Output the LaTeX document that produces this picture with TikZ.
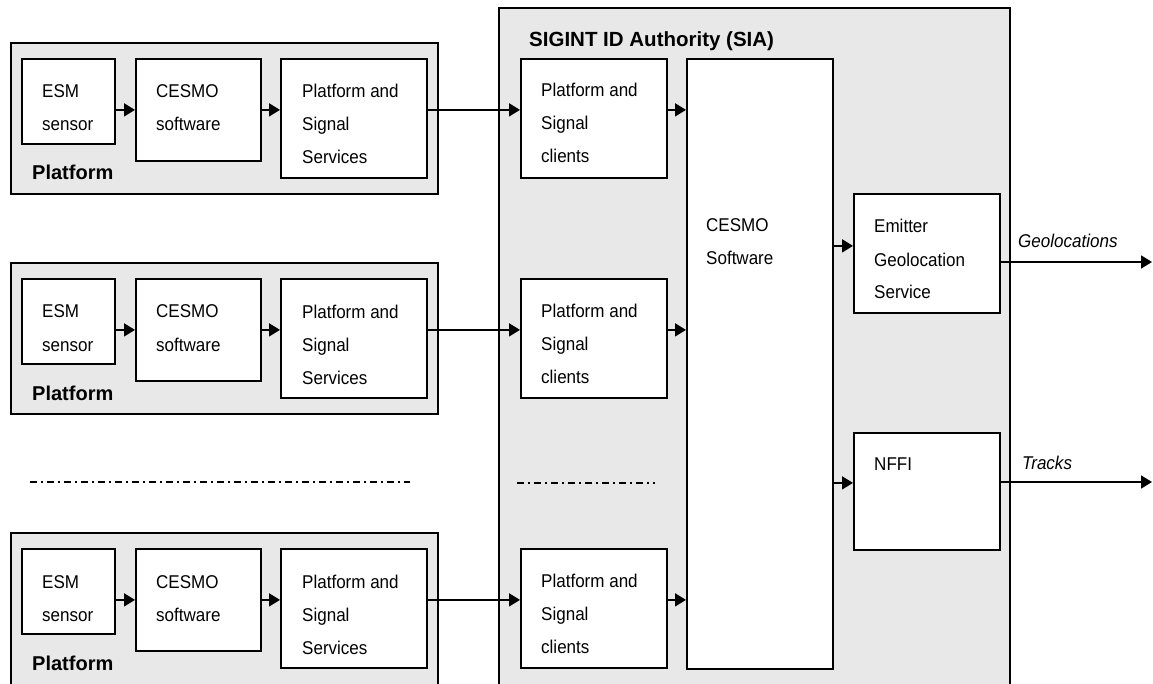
\documentclass[tikz,border=0pt]{standalone}
\usepackage{fontspec}
\setmainfont{Liberation Sans}
\newfontfamily\nrw[FakeStretch=0.92]{Liberation Sans}
\usetikzlibrary{arrows.meta}
\definecolor{sgray}{HTML}{E8E8E8}
\newcommand\bx[6][]{\node[#1, minimum width={(#5)-(#3)}, minimum height={(#6)-(#4)}, anchor=north west] (#2) at (#3,#4) {};}
\begin{document}
\begin{tikzpicture}[x=1pt,y=-1pt,
  wbox/.style={draw, line width=1.8pt, fill=white, inner sep=0pt},
  gbox/.style={draw, line width=1.8pt, fill=sgray, inner sep=0pt},
  txt/.style={anchor=base west, align=left, inner sep=0pt, font=\nrw\fontsize{18.5}{33}\selectfont},
  itx/.style={anchor=base west, inner sep=0pt, font=\nrw\itshape\fontsize{18.5}{22}\selectfont},
  ttl/.style={anchor=base west, inner sep=0pt, font=\bfseries\fontsize{20.5}{24}\selectfont},
  arr/.style={line width=1.8pt, -{Triangle[length=11pt,width=13pt]}},
  dd/.style={line width=2pt, dash pattern=on 7pt off 4pt on 2pt off 4pt}]
\useasboundingbox (0,0) rectangle (1153,684);
\clip (0,0) rectangle (1153,684);
% SIA
\bx[gbox]{sia}{498}{7}{1009}{720}
\node[ttl] (siat) at (529,46.5) {SIGINT ID Authority (SIA)};
\bx[wbox]{big}{686}{58}{832}{668}
\node[txt] (bigt) at (706,265) {CESMO\\Software};
\bx[wbox]{emit}{853}{193}{999}{312}
\node[txt] (emitt) at (874,299) {Emitter\\Geolocation\\Service};
\bx[wbox]{nffi}{853}{432}{999}{549}
\node[txt] (nffit) at (874,470) {NFFI};
% rows
\foreach \r/\o/\b in {1/0/193,2/220/413,3/490/720}{
  \bx[gbox]{plat\r}{10}{42+\o}{437}{\b}
  \node[ttl, font=\bfseries\fontsize{20}{24}\selectfont] (platt\r) at (32,180+\o) {Platform};
  \bx[wbox]{esm\r}{21}{58+\o}{114}{143+\o}
  \bx[wbox]{ces\r}{135}{58+\o}{260}{160+\o}
  \bx[wbox]{svc\r}{280}{58+\o}{426}{177+\o}
  \bx[wbox]{cl\r}{520}{58+\o}{666}{177+\o}
  \node[txt] (esmt\r) at (42,131+\o) {ESM\\sensor};
  \node[txt] (cest\r) at (156,131+\o) {CESMO\\software};
  \node[txt] (svct\r) at (302,164+\o) {Platform and\\Signal\\Services};
  \node[txt] (clt\r) at (541,163+\o) {Platform and\\Signal\\clients};
  \draw[arr] (esm\r.east |- ces\r.west) -- (ces\r.west);
  \draw[arr] (ces\r.east) -- (svc\r.west |- ces\r.east);
  \draw[arr] (svc\r.east |- ces\r.east) -- (cl\r.west |- ces\r.east);
  \draw[arr] (cl\r.east |- ces\r.east) -- (big.west |- ces\r.east);
}
% outputs
\coordinate (geo) at (1152,262);
\coordinate (trk) at (1152,482);
\draw[arr] ([yshift=7.5pt]big.east |- emit.west) -- ([yshift=7.5pt]emit.west);
\draw[arr] (emit.east |- geo) -- (geo);
\draw[arr] ([yshift=8.5pt]big.east |- nffi.west) -- ([yshift=8.5pt]nffi.west);
\draw[arr] (nffi.east |- trk) -- (trk);
\node[itx] (geot) at (1018,248) {Geolocations};
\node[itx] (trkt) at (1022,469) {Tracks};
% dash-dot separators
\coordinate (d1a) at (30,482); \coordinate (d1b) at (410,482);
\coordinate (d2a) at (517,483); \coordinate (d2b) at (655,483);
\draw[dd] (d1a) -- (d1b);
\draw[dd] (d2a) -- (d2b);
\end{tikzpicture}
\end{document}
